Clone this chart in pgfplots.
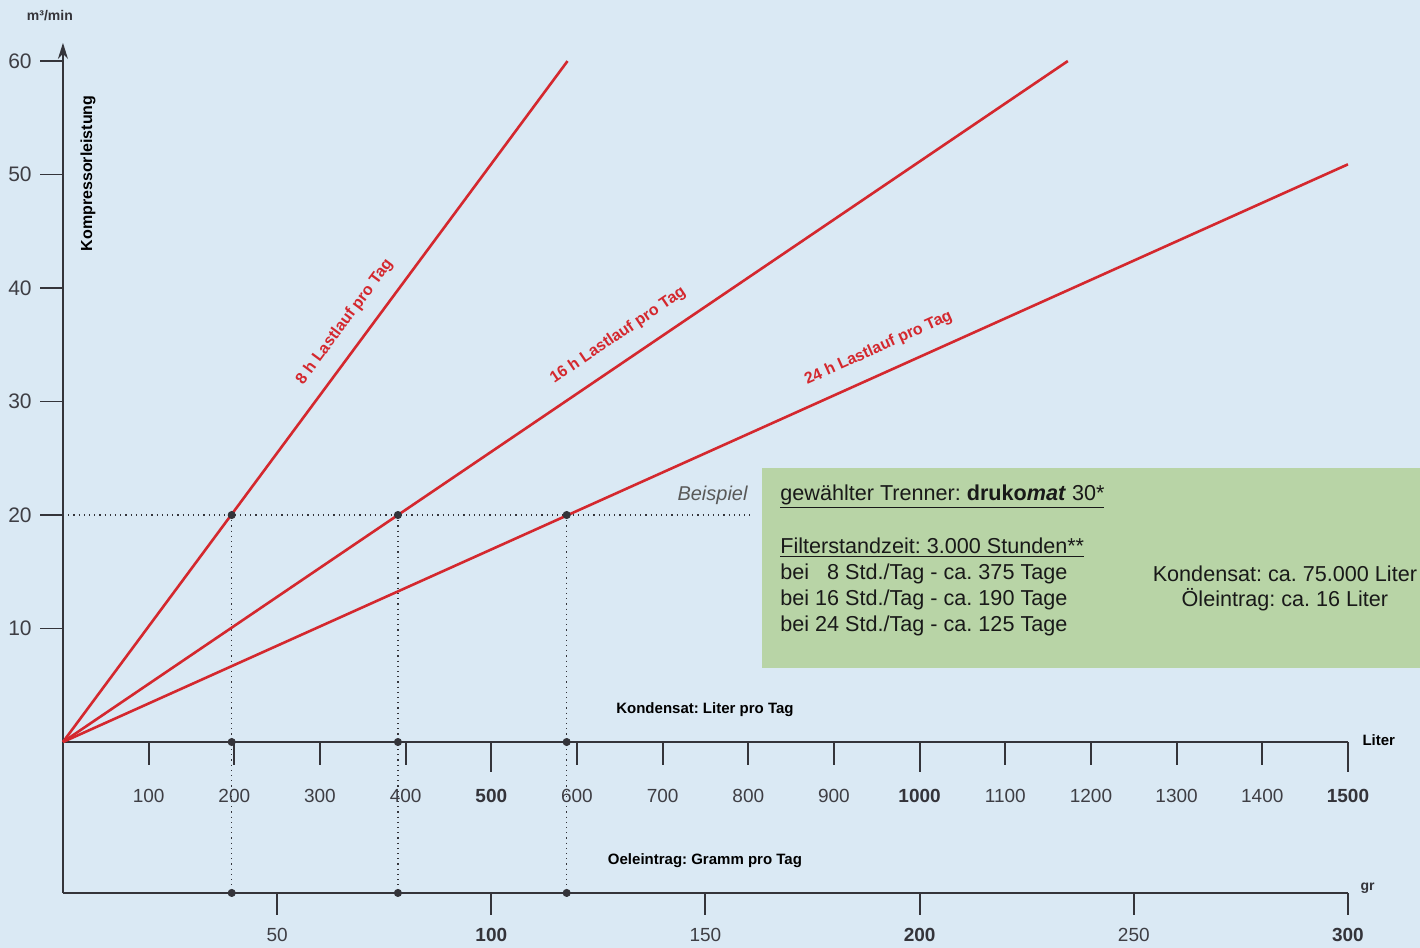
\documentclass[border=0pt]{standalone}
\usepackage{pgfplots}
\pgfplotsset{compat=1.18}
\usepackage{fontspec}
\setmainfont{Liberation Sans}
\usetikzlibrary{arrows.meta}
\definecolor{bg}{RGB}{218,233,244}
\definecolor{boxgreen}{RGB}{184,212,166}
\definecolor{linered}{RGB}{212,40,46}
\definecolor{axgray}{RGB}{52,52,58}
\definecolor{ticklab}{RGB}{62,62,68}
\definecolor{boxtext}{RGB}{25,25,25}
\newcommand{\fs}[1]{\fontsize{#1}{#1}\selectfont}
\frenchspacing
\begin{document}
\begin{tikzpicture}[every node/.style={inner sep=0pt}]
\begin{axis}[
  scale only axis, width=710pt, height=474pt,
  xmin=-73.5, xmax=1584.1, ymin=-18.15, ymax=65.38,
  axis lines=none, clip=false,
]
% background and info box
\fill[bg] (rel axis cs:0,0) rectangle (rel axis cs:1,1);
\fill[boxgreen] (axis cs:816,6.52) rectangle (axis cs:1584.1,24.14);

% y axis
\draw[axgray, line width=1pt, -{Stealth[length=8pt,width=5pt]}] (axis cs:0,-13.3) -- (axis cs:0,61.6);
\pgfplotsinvokeforeach{10,20,30,40,50,60}{
  \draw[axgray, line width=0.9pt] (axis cs:-26.8,#1) -- (axis cs:0,#1);
  \node[text=ticklab, font=\fs{10.5}] at (axis cs:-50.2,#1) {#1};
}
\node[font=\bfseries\fs{7}, text=axgray] at (axis cs:-15.2,63.97) {m³/min};
\node[rotate=90, font=\bfseries\fs{8}, text=black] at (axis cs:29.2,50.1) {Kompressorleistung};

% Liter axis
\draw[axgray, line width=1pt] (axis cs:0,0) -- (axis cs:1500,0);
\pgfplotsinvokeforeach{100,200,300,400,600,700,800,900,1100,1200,1300,1400}{
  \draw[axgray, line width=0.9pt] (axis cs:#1,0) -- (axis cs:#1,-2.03);
  \node[text=ticklab, font=\fs{9.5}] at (axis cs:#1,-4.76) {#1};
}
\pgfplotsinvokeforeach{500,1000,1500}{
  \draw[axgray, line width=1.1pt] (axis cs:#1,0) -- (axis cs:#1,-2.64);
  \node[text=axgray, font=\bfseries\fs{9.5}] at (axis cs:#1,-4.76) {#1};
}
\node[font=\bfseries\fs{7.5}, text=black] at (axis cs:749.4,2.82) {Kondensat: Liter pro Tag};
\node[font=\bfseries\fs{7.5}, text=black] at (axis cs:1536,0.18) {Liter};

% Gramm axis
\draw[axgray, line width=1pt] (axis cs:0,-13.3) -- (axis cs:1500,-13.3);
\pgfplotsinvokeforeach{250,500,750,1000,1250,1500}{
  \draw[axgray, line width=1pt] (axis cs:#1,-13.3) -- (axis cs:#1,-15.24);
}
\node[text=ticklab, font=\fs{9.5}] at (axis cs:250,-17.0) {50};
\node[text=axgray, font=\bfseries\fs{9.5}] at (axis cs:500,-17.0) {100};
\node[text=ticklab, font=\fs{9.5}] at (axis cs:750,-17.0) {150};
\node[text=axgray, font=\bfseries\fs{9.5}] at (axis cs:1000,-17.0) {200};
\node[text=ticklab, font=\fs{9.5}] at (axis cs:1250,-17.0) {250};
\node[text=axgray, font=\bfseries\fs{9.5}] at (axis cs:1500,-17.0) {300};
\node[font=\bfseries\fs{7.5}, text=black] at (axis cs:749.4,-10.49) {Oeleintrag: Gramm pro Tag};
\node[font=\bfseries\fs{7}, text=axgray] at (axis cs:1523,-12.9) {gr};

% dotted guide lines
\addplot[axgray, dotted, line width=0.6pt] coordinates {(0,20) (802,20)};
\addplot[axgray, dotted, line width=0.6pt] coordinates {(197,20) (197,-13.3)};
\addplot[axgray, dotted, line width=0.6pt] coordinates {(391,20) (391,-13.3)};
\addplot[axgray, dotted, line width=0.6pt] coordinates {(588,20) (588,-13.3)};

% load lines
\addplot[linered, line width=1.3pt] coordinates {(0,0) (589,60)};
\addplot[linered, line width=1.3pt] coordinates {(0,0) (1173,60)};
\addplot[linered, line width=1.3pt] coordinates {(0,0) (1500,50.9)};

% example points
\addplot[only marks, mark=*, mark size=1.8pt, axgray] coordinates {
  (197,20) (391,20) (588,20)
  (197,0) (391,0) (588,0)
  (197,-13.3) (391,-13.3) (588,-13.3)};

% line labels
\node[rotate=53.4, text=linered, font=\bfseries\fs{8}] at (axis cs:329,37.0) {8 h Lastlauf pro Tag};
\node[rotate=34.1, text=linered, font=\bfseries\fs{8}] at (axis cs:648,35.8) {16 h Lastlauf pro Tag};
\node[rotate=24.2, text=linered, font=\bfseries\fs{8}] at (axis cs:952,34.7) {24 h Lastlauf pro Tag};

% example text
\node[anchor=east, font=\itshape\fs{10}, text=black!65] at (axis cs:799.6,21.76) {Beispiel};
\node[anchor=west, font=\fs{10.8}, text=boxtext] at (axis cs:837,21.59) {\underline{gewählter Trenner: \textbf{druko\textit{mat}} 30*}};
\node[anchor=west, font=\fs{10.8}, text=boxtext] at (axis cs:837,17.09) {\underline{Filterstandzeit: 3.000 Stunden**}};
\node[anchor=west, font=\fs{10.8}, text=boxtext] at (axis cs:837,14.80) {bei \phantom{1}8 Std./Tag - ca. 375 Tage};
\node[anchor=west, font=\fs{10.8}, text=boxtext] at (axis cs:837,12.51) {bei 16 Std./Tag - ca. 190 Tage};
\node[anchor=west, font=\fs{10.8}, text=boxtext] at (axis cs:837,10.22) {bei 24 Std./Tag - ca. 125 Tage};
\node[font=\fs{10.8}, text=boxtext] at (axis cs:1426.4,14.80) {Kondensat: ca. 75.000 Liter};
\node[font=\fs{10.8}, text=boxtext] at (axis cs:1426.4,12.51) {Öleintrag: ca. 16 Liter};
\end{axis}
\pgfresetboundingbox
\path (0,0) rectangle (710pt,474pt);
\end{tikzpicture}
\end{document}
